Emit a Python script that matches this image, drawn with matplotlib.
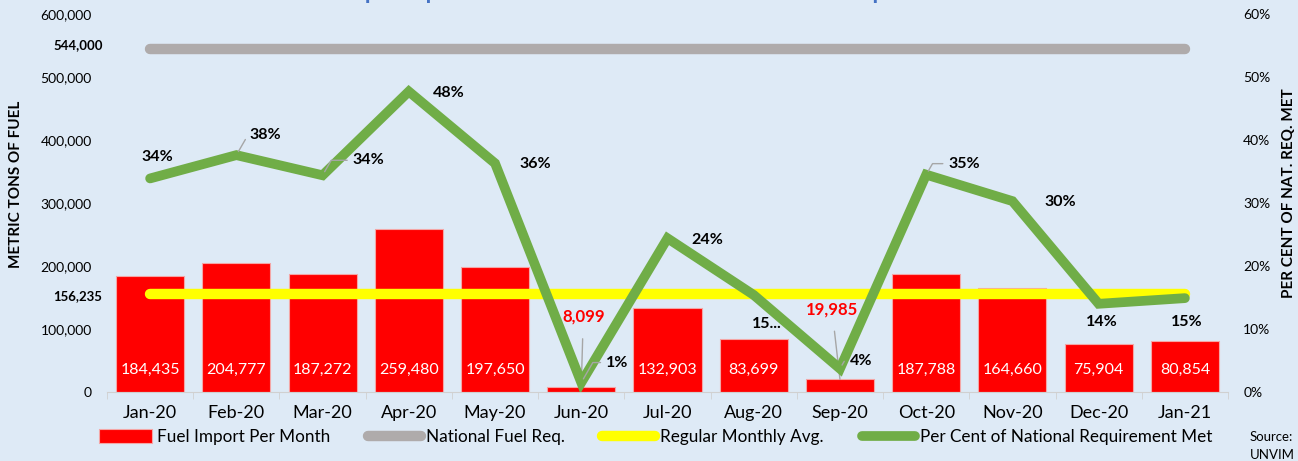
import matplotlib
matplotlib.use("Agg")
import matplotlib.pyplot as plt
from matplotlib.ticker import FuncFormatter, PercentFormatter
import numpy as np

plt.rcParams['font.family'] = ['Lato', 'DejaVu Sans']

# ── Data ────────────────────────────────────────────────────────────────────
months   = ["Jan-20", "Feb-20", "Mar-20", "Apr-20", "May-20", "Jun-20", "Jul-20",
            "Aug-20", "Sep-20", "Oct-20", "Nov-20", "Dec-20", "Jan-21"]
imports  = [184435, 204777, 187272, 259480, 197650, 8099, 132903,
            83699, 19985, 187788, 164660, 75904, 80854]
nat_req  = [544000] * 13
avg_req  = [156235] * 13
pct_met  = [0.339, 0.376, 0.344, 0.477, 0.363, 0.015, 0.244,
            0.154, 0.037, 0.345, 0.303, 0.140, 0.149]
pct_lbls = ["34%", "38%", "34%", "48%", "36%", "1%", "24%",
            "15...", "4%", "35%", "30%", "14%", "15%"]

BG     = "#DEEAF6"
RED    = "#FF0000"
GRAY   = "#AFABAB"
YELLOW = "#FFFF00"
GREEN  = "#70AD47"
LEAD   = "#A6A6A6"

# ── Figure ──────────────────────────────────────────────────────────────────
fig = plt.figure(figsize=(12.98, 4.61), dpi=100, facecolor=BG)
ax  = fig.add_axes([107/1298, 69/461, 1121/1298, 378/461])
ax.set_facecolor(BG)
x = np.arange(len(months))

bars = ax.bar(x, imports, width=0.79, color=RED, edgecolor="#F4A6A6",
              linewidth=0.8, label="Fuel Import Per Month", zorder=2)
ln_nat, = ax.plot(x, nat_req, color=GRAY, lw=7.5, solid_capstyle="round",
                  label="National Fuel Req.", zorder=3)
ln_avg, = ax.plot(x, avg_req, color=YELLOW, lw=7.5, solid_capstyle="round",
                  label="Regular Monthly Avg.", zorder=3)

ax.set_xlim(-0.5, len(months) - 0.5)
ax.set_ylim(0, 600000)
ax.set_yticks(np.arange(0, 600001, 100000))
ax.yaxis.set_major_formatter(FuncFormatter(lambda v, p: f"{int(v):,}"))
ax.tick_params(axis="y", length=0, labelsize=10, pad=11)
ax.set_xticks(x)
ax.set_xticklabels(months, fontsize=13)
ax.set_xticks(np.arange(-0.5, len(months)), minor=True)
ax.tick_params(axis="x", which="major", length=0, pad=9)
ax.tick_params(axis="x", which="minor", length=5, color="#D0D0D0")
for s in ["top", "left", "right"]:
    ax.spines[s].set_visible(False)
ax.spines["bottom"].set_color("#D0D0D0")
ax.set_ylabel("METRIC TONS OF FUEL", fontsize=11, fontweight="bold")
ax.yaxis.set_label_coords(-84/1121, 0.55)

# bar value labels
for i, v in enumerate(imports):
    if v < 50000:
        ax.annotate(f"{v:,}", xy=(i, v), xytext=(2 if i == 5 else -8, 70),
                    textcoords="offset pixels", ha="center", va="center",
                    color=RED, fontsize=12, fontweight="bold",
                    arrowprops=dict(arrowstyle="-", color=LEAD, lw=1,
                                    shrinkA=8, shrinkB=0))
    else:
        ax.annotate(f"{v:,}", xy=(i, 0), xytext=(0, 22), textcoords="offset pixels",
                    ha="center", va="center", color="white", fontsize=11.5)

# line labels at left
ax.annotate("544,000", xy=(0, nat_req[0]), xytext=(-72, 4), textcoords="offset pixels",
            ha="center", va="center", fontsize=9.5, fontweight="bold")
ax.annotate("156,235", xy=(0, avg_req[0]), xytext=(-72, -3), textcoords="offset pixels",
            ha="center", va="center", fontsize=9.5, fontweight="bold")

# ── Percent axis ────────────────────────────────────────────────────────────
ax2 = ax.twinx()
ln_pct, = ax2.plot(x, pct_met, color=GREEN, lw=7, solid_capstyle="round",
                   solid_joinstyle="miter",
                   label="Per Cent of National Requirement Met", zorder=4)
ax2.set_ylim(0, 0.6)
ax2.set_yticks(np.arange(0, 0.61, 0.1))
ax2.yaxis.set_major_formatter(PercentFormatter(1.0, decimals=0))
ax2.tick_params(axis="y", length=0, labelsize=10, pad=11)
for s in ["top", "left", "right", "bottom"]:
    ax2.spines[s].set_visible(False)

offsets = [(7, 21), (29, 20), (46, 15), (40, -2), (40, -1), (36, 20), (40, -2),
           (13, -29), (21, 8), (38, 11), (48, -1), (3, -18), (2, -24)]
leaders = {1, 2, 5, 8, 9}
for i, (p, lbl) in enumerate(zip(pct_met, pct_lbls)):
    arrow = None
    if i in leaders:
        arrow = dict(arrowstyle="-", color=LEAD, lw=1, shrinkA=2, shrinkB=3,
                     connectionstyle="angle,angleA=0,angleB=60,rad=0")
    ax2.annotate(lbl, xy=(i, p), xytext=offsets[i], textcoords="offset pixels",
                 ha="center", va="center", fontsize=11.5, fontweight="bold",
                 arrowprops=arrow, zorder=5)

fig.text(1289/1298, 0.58, "PER CENT OF NAT. REQ. MET", rotation=90, ha="center",
         va="center", fontsize=11, fontweight="bold")

# title, cut off at the very top as in the source image
fig.text(0.505, 1.0 + 1/461, "Fuel Imports per Month and as Per Cent of National Requirement Met",
         ha="center", va="baseline", color="#4472C4", fontsize=17, fontweight="bold")

# ── Legend ──────────────────────────────────────────────────────────────────
fig.legend([bars, ln_nat, ln_avg, ln_pct],
           [bars.get_label(), ln_nat.get_label(), ln_avg.get_label(), ln_pct.get_label()],
           loc="center", bbox_to_anchor=(0.505, 0.052), ncol=4,
           frameon=False, fontsize=12.3, handlelength=3.1, handleheight=0.9,
           handletextpad=0.3, columnspacing=2.2)

fig.text(1250/1298, 0.052, "Source:", fontsize=9.5, va="center")
fig.text(1250/1298, 0.013, "UNVIM", fontsize=9.5, va="center")

fig.savefig("out.png", dpi=100, facecolor=BG)
